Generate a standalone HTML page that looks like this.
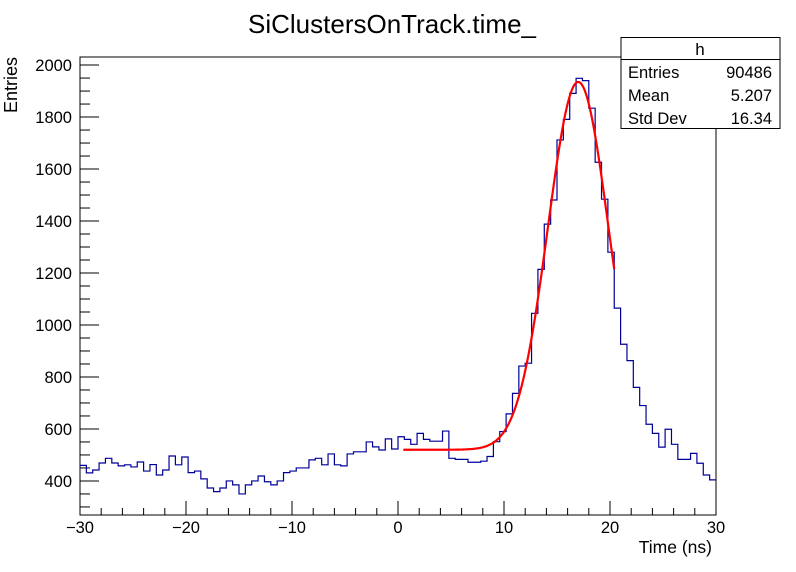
<!DOCTYPE html>
<html><head><meta charset="utf-8"><style>
body{margin:0;background:#fff}
svg{display:block;font-family:"Liberation Sans",sans-serif}
</style></head><body>
<svg id="c" width="796" height="572" viewBox="0 0 796 572">
<text x="392" y="33" font-size="26" text-anchor="middle">SiClustersOnTrack.time_</text>
<rect x="80" y="57" width="636" height="458" fill="none" stroke="#000" stroke-width="1"/>
<g id="axes"></g>
<path id="hist" fill="none" stroke="#000099" stroke-width="1.2"/>
<path id="fit" fill="none" stroke="#ff0000" stroke-width="2.2"/>
<text x="712" y="553" font-size="17.5" text-anchor="end">Time (ns)</text>
<text transform="translate(17,57) rotate(-90)" font-size="18" text-anchor="end">Entries</text>
<g>
<rect x="621" y="37.5" width="159" height="91" fill="#fff" stroke="#000"/>
<line x1="621" y1="59.5" x2="780" y2="59.5" stroke="#000"/>
<text x="700" y="55" font-size="17" text-anchor="middle">h</text>
<text x="628" y="78" font-size="16.5">Entries</text>
<text x="772" y="78" font-size="16.5" text-anchor="end">90486</text>
<text x="628" y="101" font-size="16.5">Mean</text>
<text x="772" y="101" font-size="16.5" text-anchor="end">5.207</text>
<text x="628" y="124" font-size="16.5">Std Dev</text>
<text x="772" y="124" font-size="16.5" text-anchor="end">16.34</text>
</g>
</svg>
<script>
const binCounts=[460,431,442,469,487,469,458,462,454,473,438,463,423,442,496,462,492,432,438,408,373,359,373,400,385,350,385,400,419,397,385,400,432,438,450,450,481,487,462,504,462,458,504,512,512,550,531,519,562,523,
570,560,541,583,560,553,553,592,487,483,483,472,472,476,494,551,590,658,737,842,853,1045,1214,1388,1481,1712,1791,1891,1949,1940,1834,1626,1484,1280,1065,926,863,760,690,618,583,530,599,541,483,483,506,468,423,404];
const xRange=[-30,30];
const yRange=[269,2031];
const xTickLabels=[-30,-20,-10,0,10,20,30];
const yTickLabels=[400,600,800,1000,1200,1400,1600,1800,2000];
const fitConst=520, fitAmp=1415, fitMean=17.0, fitSigma=2.85;
const fitRange=[0.5,20.4];

const L=80,R=716,T=57,B=515;
const X=v=>L+(v-xRange[0])/(xRange[1]-xRange[0])*(R-L);
const Y=v=>B-(v-yRange[0])/(yRange[1]-yRange[0])*(B-T);
const ns='http://www.w3.org/2000/svg';
const ax=document.getElementById('axes');
function ln(x1,y1,x2,y2,name){const l=document.createElementNS(ns,'line');
l.setAttribute('x1',x1);l.setAttribute('y1',y1);l.setAttribute('x2',x2);l.setAttribute('y2',y2);l.setAttribute('stroke','#000');


ax.appendChild(l);}
function tx(x,y,s,anchor,name){const t=document.createElementNS(ns,'text');
t.setAttribute('x',x);t.setAttribute('y',y);t.setAttribute('font-size','16.5');t.setAttribute('text-anchor',anchor);t.textContent=s;


ax.appendChild(t);}
for(let v=xRange[0];v<=xRange[1]+1e-9;v+=2){const major=Math.abs(v%10)<1e-9;const x=X(v);ln(x,B,x,B-(major?14:7),major?'x-major-tick':'x-minor-tick');}
xTickLabels.forEach(v=>tx(X(v),533,v<0?'\u2212'+Math.abs(v):String(v),'middle','x-tick-label'));
for(let v=300;v<=2030;v+=50){const major=v%200===0;const y=Y(v);ln(L,y,L+(major?19:10),y,major?'y-major-tick':'y-minor-tick');}
yTickLabels.forEach(v=>tx(72,Y(v)+6,String(v),'end','y-tick-label'));
const n=binCounts.length,w=(xRange[1]-xRange[0])/n;
let d='M'+X(xRange[0])+','+Y(binCounts[0]);
binCounts.forEach((c,i)=>{d+=' L'+X(xRange[0]+i*w)+','+Y(c)+' L'+X(xRange[0]+(i+1)*w)+','+Y(c);});
document.getElementById('hist').setAttribute('d',d);
let f='';
for(let i=0;i<=300;i++){const t=fitRange[0]+(fitRange[1]-fitRange[0])*i/300;
const v=fitConst+fitAmp*Math.exp(-Math.pow(t-fitMean,2)/(2*fitSigma*fitSigma));
f+=(i?' L':'M')+X(t).toFixed(2)+','+Y(v).toFixed(2);}
document.getElementById('fit').setAttribute('d',f);
</script>
</body></html>
